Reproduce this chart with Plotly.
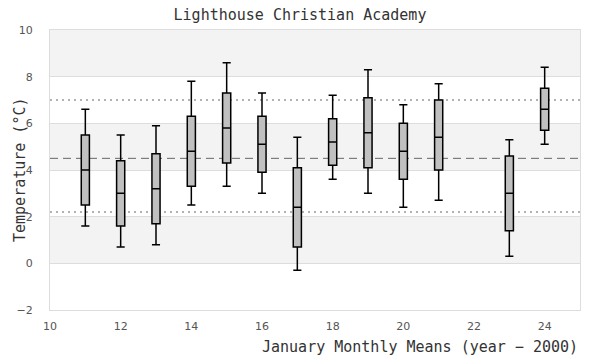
import plotly.graph_objects as go

# Data
years = [11, 12, 13, 14, 15, 16, 17, 18, 19, 20, 21, 23, 24]
low_whisker = [1.6, 0.7, 0.8, 2.5, 3.3, 3.0, -0.3, 3.6, 3.0, 2.4, 2.7, 0.3, 5.1]
q1_vals = [2.5, 1.6, 1.7, 3.3, 4.3, 3.9, 0.7, 4.2, 4.1, 3.6, 4.0, 1.4, 5.7]
median_vals = [4.0, 3.0, 3.2, 4.8, 5.8, 5.1, 2.4, 5.2, 5.6, 4.8, 5.4, 3.0, 6.6]
q3_vals = [5.5, 4.4, 4.7, 6.3, 7.3, 6.3, 4.1, 6.2, 7.1, 6.0, 7.0, 4.6, 7.5]
high_whisker = [6.6, 5.5, 5.9, 7.8, 8.6, 7.3, 5.4, 7.2, 8.3, 6.8, 7.7, 5.3, 8.4]

ref_upper = 7.0
ref_mean = 4.5
ref_lower = 2.2
band_ranges = [(8, 10), (4, 6), (0, 2)]

title_text = "Lighthouse Christian Academy"
x_title = "January Monthly Means (year − 2000)"
y_title = "Temperature (°C)"

mono = "DejaVu Sans Mono"
sans = "DejaVu Sans, Verdana, sans-serif"

fig = go.Figure()
fig.add_trace(go.Box(
    x=years,
    q1=q1_vals,
    median=median_vals,
    q3=q3_vals,
    lowerfence=low_whisker,
    upperfence=high_whisker,
    width=0.23,
    whiskerwidth=1,
    fillcolor="#c0c0c0",
    line=dict(color="black", width=1.5),
    showlegend=False,
    hoverinfo="skip",
))

shapes = []
for lo, hi in band_ranges:
    shapes.append(dict(type="rect", xref="paper", yref="y", x0=0, x1=1, y0=lo, y1=hi,
                       fillcolor="#f3f3f3", line=dict(width=0), layer="below"))
for val, dash, col in [(ref_upper, "2px,4px", "#666666"), (ref_lower, "2px,4px", "#666666"),
                       (ref_mean, "8px,5px", "#666666")]:
    shapes.append(dict(type="line", xref="paper", yref="y", x0=0, x1=1, y0=val, y1=val,
                       line=dict(color=col, width=1, dash=dash), layer="below"))

fig.update_layout(
    width=600, height=360,
    margin=dict(l=50, r=20, t=30, b=50),
    paper_bgcolor="white",
    plot_bgcolor="white",
    shapes=shapes,
    title=dict(text=title_text, x=0.5, xref="container", xanchor="center",
               y=1 - 15 / 360, yref="container", yanchor="middle",
               font=dict(family=mono, size=15, color="#333333")),
    annotations=[
        dict(text=x_title, xref="paper", yref="paper", x=1, y=(310 - 347) / 280,
             xanchor="right", yanchor="middle", showarrow=False,
             font=dict(family=mono, size=15, color="#333333")),
        dict(text=y_title, xref="paper", yref="paper", x=(20 - 50) / 530, y=0.5,
             xanchor="center", yanchor="middle", textangle=-90, showarrow=False,
             font=dict(family=mono, size=15, color="#333333")),
    ],
)
fig.update_xaxes(range=[10, 25], dtick=2, tick0=10, showgrid=False, zeroline=False,
                 showline=True, mirror=True, linecolor="#dddddd", linewidth=1,
                 ticks="outside", ticklen=6, tickcolor="rgba(0,0,0,0)",
                 tickfont=dict(family=sans, size=11, color="#555555"))
fig.update_yaxes(range=[-2, 10], dtick=2, tick0=0, showgrid=True, gridcolor="#dddddd",
                 zeroline=False, showline=True, mirror=True, linecolor="#dddddd", linewidth=1,
                 ticks="outside", ticklen=14, tickcolor="rgba(0,0,0,0)",
                 tickfont=dict(family=sans, size=11, color="#555555"))

fig.write_html("out.html", config={"displayModeBar": False},
               post_script="document.body.style.margin='0';document.body.style.overflow='hidden';")
